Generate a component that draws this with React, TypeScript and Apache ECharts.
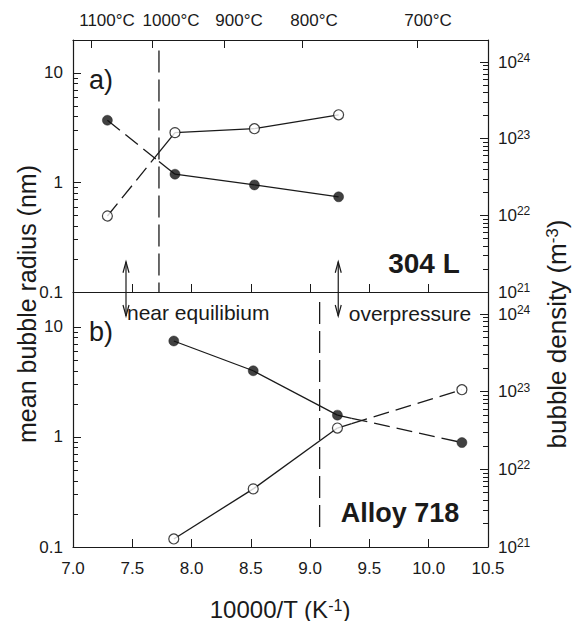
import React, { useEffect, useRef } from 'react';
import * as echarts from 'echarts';

const FONT = '"Liberation Sans", Arial, Helvetica, sans-serif';
const INK = '#1a1a1a';

// ---- data ----
const xTop = [7.29, 7.86, 8.53, 9.24];
const radiusTop = [3.7, 1.19, 0.95, 0.74];
const densityTop = [9.8e21, 1.2e23, 1.35e23, 2.05e23];

const xBottom = [7.85, 8.52, 9.23, 10.28];
const radiusBottom = [7.46, 4.0, 1.58, 0.89];
const densityBottom = [1.27e21, 5.6e21, 3.4e22, 1.06e23];

// where the connecting lines change from dashed to solid
const splitTop = 7.725; // dashed to the left of it
const splitBottom = 9.35; // dashed to the right of it

// vertical dashed boundaries (x, and radius-range they span)
const boundaryTopX = 7.725;
const boundaryTopSpan = [16, 0.1];
const boundaryBottomX = 9.08;
const boundaryBottomSpan = [16.9, 0.152];

// double arrows (x, span expressed in top-panel radius units)
const arrowX = [7.447, 9.237];
const arrowSpan = [0.189, 0.0604];

// top temperature axis
const tempTickX = [7.152, 7.666, 8.273, 8.931, 9.901];
const tempLabelX = [7.287, 7.827, 8.4, 9.033, 9.994];
const tempLabels = ['1100°C', '1000°C', '900°C', '800°C', '700°C'];

// log-axis ticks
const radiusMajor = [0.1, 1, 10];
const radiusMinor = [0.2, 0.3, 0.4, 0.5, 0.6, 0.7, 0.8, 0.9, 2, 3, 4, 5, 6, 7, 8, 9];
const densityMajor = [1e21, 1e22, 1e23, 1e24];
const densityMinor = [
  2e21, 3e21, 4e21, 5e21, 6e21, 7e21, 8e21, 9e21,
  2e22, 3e22, 4e22, 5e22, 6e22, 7e22, 8e22, 9e22,
  2e23, 3e23, 4e23, 5e23, 6e23, 7e23, 8e23, 9e23,
];

// axis extents
const radiusMaxTop = 20;
const densityMaxTop = 1.94e24;
const radiusMaxBottom = 20.8;
const densityMaxBottom = 1.92e24;

const lineSolid = { stroke: INK, lineWidth: 1.3, fill: null };
const lineDashed = { stroke: INK, lineWidth: 1.3, fill: null, lineDash: [16, 7] };

function segmentSeries(xs: number[], ys: number[], split: number, dashedLeft: boolean, xi: number, yi: number) {
  return {
    type: 'custom',
    xAxisIndex: xi,
    yAxisIndex: yi,
    clip: false,
    silent: true,
    z: 3,
    data: xs.map((x, i) => [x, ys[i]]),
    renderItem: (params: any, api: any) => {
      const i = params.dataIndex;
      if (i >= xs.length - 1) return null;
      const p0 = api.coord([xs[i], ys[i]]);
      const p1 = api.coord([xs[i + 1], ys[i + 1]]);
      if (split > xs[i] && split < xs[i + 1]) {
        const sx = api.coord([split, ys[i]])[0];
        const t = (sx - p0[0]) / (p1[0] - p0[0]);
        const my = p0[1] + t * (p1[1] - p0[1]);
        return {
          type: 'group',
          children: [
            { type: 'line', shape: { x1: p0[0], y1: p0[1], x2: sx, y2: my }, style: dashedLeft ? lineDashed : lineSolid },
            { type: 'line', shape: { x1: sx, y1: my, x2: p1[0], y2: p1[1] }, style: dashedLeft ? lineSolid : lineDashed },
          ],
        };
      }
      const dashed = dashedLeft ? xs[i + 1] <= split : xs[i] >= split;
      return { type: 'line', shape: { x1: p0[0], y1: p0[1], x2: p1[0], y2: p1[1] }, style: dashed ? lineDashed : lineSolid };
    },
  };
}

function scatter(xs: number[], ys: number[], filled: boolean, xi: number, yi: number) {
  return {
    type: 'scatter',
    xAxisIndex: xi,
    yAxisIndex: yi,
    symbol: 'circle',
    symbolSize: 10,
    z: 5,
    silent: true,
    itemStyle: filled
      ? { color: '#111', borderColor: '#111', borderWidth: 0.5 }
      : { color: '#fff', borderColor: '#111', borderWidth: 1.2 },
    data: xs.map((x, i) => [x, ys[i]]),
  };
}

const axisLineStyle = { show: true, lineStyle: { color: INK, width: 1.2 } };

function radiusAxis(grid: number, max: number) {
  return {
    gridIndex: grid, type: 'log', logBase: 10, min: 0.1, max, position: 'left',
    axisLine: axisLineStyle,
    axisTick: { show: true, inside: true, length: 8, customValues: radiusMajor, lineStyle: { color: INK } },
    axisLabel: {
      customValues: radiusMajor, margin: 10, color: INK, fontSize: 17, fontFamily: FONT,
      formatter: (v: number) => (v < 0.5 ? '0.1' : String(Math.round(v))),
    },
    splitLine: { show: false }, minorTick: { show: false },
  };
}
function densityAxis(grid: number, max: number) {
  return {
    gridIndex: grid, type: 'log', logBase: 10, min: 1e21, max, position: 'right',
    axisLine: axisLineStyle,
    axisTick: { show: true, inside: true, length: 8, customValues: densityMajor, lineStyle: { color: INK } },
    axisLabel: {
      customValues: densityMajor, margin: 10, color: INK, fontFamily: FONT,
      formatter: (v: number) => `{b|10}{s|${Math.round(Math.log10(v))}}`,
      rich: {
        b: { fontSize: 17, fontFamily: FONT, color: INK, lineHeight: 20 },
        s: { fontSize: 12, fontFamily: FONT, color: INK, lineHeight: 12, verticalAlign: 'top' },
      },
    },
    splitLine: { show: false }, minorTick: { show: false },
  };
}
function minorAxis(grid: number, min: number, max: number, pos: string, ticks: number[]) {
  return {
    gridIndex: grid, type: 'log', logBase: 10, min, max, position: pos,
    axisLine: { show: false },
    axisTick: { show: true, inside: true, length: 5, customValues: ticks, lineStyle: { color: INK } },
    axisLabel: { show: false },
    splitLine: { show: false }, minorTick: { show: false },
  };
}

const arrowSeries = {
  type: 'custom',
  xAxisIndex: 0,
  yAxisIndex: 0,
  clip: false,
  silent: true,
  z: 4,
  data: arrowX.map((x) => [x, arrowSpan[0]]),
  renderItem: (params: any, api: any) => {
    const x = arrowX[params.dataIndex];
    const a = api.coord([x, arrowSpan[0]]);
    const b = api.coord([x, arrowSpan[1]]);
    const st = { stroke: INK, lineWidth: 1.2, fill: null };
    return {
      type: 'group',
      children: [
        { type: 'line', shape: { x1: a[0], y1: a[1], x2: b[0], y2: b[1] }, style: st },
        { type: 'polyline', shape: { points: [[a[0] - 3, a[1] + 11], [a[0], a[1]], [a[0] + 3, a[1] + 11]] }, style: st },
        { type: 'polyline', shape: { points: [[b[0] - 3, b[1] - 11], [b[0], b[1]], [b[0] + 3, b[1] - 11]] }, style: st },
      ],
    };
  },
};

function boundarySeries(x: number, span: number[], xi: number, yi: number) {
  return {
    type: 'line', xAxisIndex: xi, yAxisIndex: yi, symbol: 'none', silent: true, z: 2,
    lineStyle: { color: INK, width: 1.3, type: [22, 7] },
    data: [[x, span[0]], [x, span[1]]],
  };
}

const txt = (text: string, x: number, y: number, size: number, opts: any = {}) => ({
  type: 'text', x, y, silent: true, z: 10, rotation: opts.rotation || 0,
  style: {
    text, fill: INK, font: `${opts.weight || 'normal'} ${size}px ${FONT}`,
    align: opts.align || 'left', verticalAlign: 'middle', rich: opts.rich,
  },
});

const option: any = {
  animation: false,
  backgroundColor: '#fff',
  grid: [
    { left: 73, top: 40, width: 415, height: 252, containLabel: false, outerBoundsMode: 'none' },
    { left: 73, top: 292, width: 415, height: 255, containLabel: false, outerBoundsMode: 'none' },
  ],
  xAxis: [
    {
      gridIndex: 0, type: 'value', min: 7, max: 10.5, interval: 0.5, position: 'bottom',
      axisLine: axisLineStyle,
      axisTick: { inside: true, length: 8, lineStyle: { color: INK } },
      axisLabel: { show: false }, splitLine: { show: false },
    },
    {
      gridIndex: 0, type: 'value', min: 7, max: 10.5, position: 'top',
      axisLine: axisLineStyle,
      axisTick: { inside: true, length: 8, customValues: tempTickX, lineStyle: { color: INK } },
      axisLabel: {
        customValues: tempLabelX, margin: 11, color: INK, fontSize: 17, fontFamily: FONT,
        formatter: (v: number) => {
          let best = 0;
          tempLabelX.forEach((t, i) => { if (Math.abs(t - v) < Math.abs(tempLabelX[best] - v)) best = i; });
          return tempLabels[best];
        },
      },
      splitLine: { show: false },
    },
    {
      gridIndex: 1, type: 'value', min: 7, max: 10.5, interval: 0.5, position: 'bottom',
      axisLine: axisLineStyle,
      axisTick: { inside: true, length: 8, lineStyle: { color: INK } },
      axisLabel: { margin: 13, color: INK, fontSize: 17, fontFamily: FONT, formatter: (v: number) => v.toFixed(1) },
      splitLine: { show: false },
    },
  ],
  yAxis: [
    radiusAxis(0, radiusMaxTop),
    densityAxis(0, densityMaxTop),
    minorAxis(0, 0.1, radiusMaxTop, 'left', radiusMinor),
    minorAxis(0, 1e21, densityMaxTop, 'right', densityMinor),
    radiusAxis(1, radiusMaxBottom),
    densityAxis(1, densityMaxBottom),
    minorAxis(1, 0.1, radiusMaxBottom, 'left', radiusMinor),
    minorAxis(1, 1e21, densityMaxBottom, 'right', densityMinor),
  ],
  series: [
    boundarySeries(boundaryTopX, boundaryTopSpan, 0, 0),
    boundarySeries(boundaryBottomX, boundaryBottomSpan, 2, 4),
    segmentSeries(xTop, radiusTop, splitTop, true, 0, 0),
    segmentSeries(xTop, densityTop, splitTop, true, 0, 1),
    segmentSeries(xBottom, radiusBottom, splitBottom, false, 2, 4),
    segmentSeries(xBottom, densityBottom, splitBottom, false, 2, 5),
    scatter(xTop, radiusTop, true, 0, 0),
    scatter(xTop, densityTop, false, 0, 1),
    scatter(xBottom, radiusBottom, true, 2, 4),
    scatter(xBottom, densityBottom, false, 2, 5),
    arrowSeries,
  ],
  graphic: [
    txt('a)', 89, 80, 27),
    txt('b)', 89, 332, 27),
    txt('304 L', 424, 263, 28, { weight: 'bold', align: 'center' }),
    txt('Alloy 718', 400, 513, 27, { weight: 'bold', align: 'center' }),
    txt('near equilibium', 127, 312, 21),
    txt('overpressure', 410, 313, 21, { align: 'center' }),
    txt('mean bubble radius (nm)', 27, 304, 25, { align: 'center', rotation: Math.PI / 2 }),
    txt('bubble density (m{s|-3})', 557, 334, 26, {
      align: 'center', rotation: Math.PI / 2,
      rich: { s: { fontSize: 17, fontFamily: FONT, fill: INK, color: INK, verticalAlign: 'top', lineHeight: 14 } },
    }),
    txt('10000/T (K{s|-1})', 280, 609, 24, {
      align: 'center',
      rich: { s: { fontSize: 16, fontFamily: FONT, fill: INK, color: INK, verticalAlign: 'top', lineHeight: 14 } },
    }),
  ],
};

export default function App() {
  const ref = useRef<HTMLDivElement>(null);
  useEffect(() => {
    const chart = echarts.init(ref.current as HTMLDivElement, null, { renderer: 'svg' });
    chart.setOption(option);
    return () => chart.dispose();
  }, []);
  return (
    <div
      ref={ref}
      style={{ position: 'fixed', left: 0, top: 0, width: 574, height: 621, background: '#fff' }}
    />
  );
}
